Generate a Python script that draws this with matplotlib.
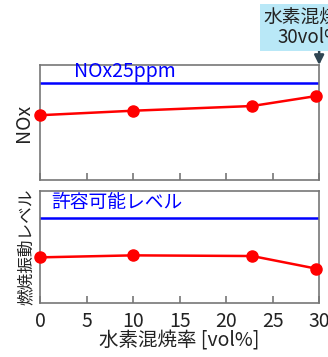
import matplotlib
matplotlib.use("Agg")
from matplotlib import pyplot as plt

plt.rcParams['font.family'] = ['Noto Sans CJK JP', 'DejaVu Sans']

# data
h2_rate = [0, 10, 22.8, 29.7]
nox = [0.563, 0.602, 0.643, 0.730]
nox_limit = 0.84
vib = [0.406, 0.424, 0.418, 0.305]
vib_limit = 0.756
xticks = [0, 5, 10, 15, 20, 25, 30]

frame = '#777777'
red = '#ff0000'
blue = '#0000ff'
txt = '#222222'

fig = plt.figure(figsize=(3.28, 3.57), dpi=100)
ax1 = fig.add_axes([0.122, 0.496, 0.851, 0.322])
ax2 = fig.add_axes([0.122, 0.152, 0.851, 0.313])

for ax in (ax1, ax2):
    ax.set_xlim(0, 30)
    ax.set_ylim(0, 1)
    ax.set_xticks(xticks)
    ax.set_yticks([])
    ax.tick_params(axis='x', direction='in', length=5, color=frame, width=1.2,
                   labelsize=14, pad=6, labelcolor=txt)
    for s in ax.spines.values():
        s.set_color(frame)
        s.set_linewidth(1.2)

ax1.tick_params(axis='x', labelbottom=False)

ax1.axhline(nox_limit, color=blue, lw=1.8)
ax1.plot(h2_rate, nox, color=red, lw=1.8, marker='o', ms=8, clip_on=False, zorder=5)
ax1.text(3.7, nox_limit + 0.01, 'NOx25ppm', color=blue, fontsize=14, va='bottom')
ax1.set_ylabel('NOx', fontsize=14, color=txt, labelpad=4)

ax2.axhline(vib_limit, color=blue, lw=1.8)
ax2.plot(h2_rate, vib, color=red, lw=1.8, marker='o', ms=8, clip_on=False, zorder=5)
ax2.text(1.2, vib_limit + 0.05, '許容可能レベル', color=blue, fontsize=13.5, va='bottom')
ax2.set_ylabel('燃焼振動レベル', fontsize=12, color=txt, labelpad=4)
ax2.set_xlabel('水素混焼率 [vol%]', fontsize=14, color=txt, labelpad=-1)

fig.text(0.945, 0.923, '水素混焼率\n30vol%', ha='center', va='center', fontsize=13.5,
         color=txt, linespacing=0.95,
         bbox=dict(boxstyle='square,pad=0.15', fc='#b9e8f7', ec='none'))
ax1.annotate('', xy=(1.0, 1.0), xycoords='axes fraction',
             xytext=(1.0, 1.18), textcoords='axes fraction',
             arrowprops=dict(arrowstyle='-|>', color='#2f4552', lw=1.8,
                             mutation_scale=14, shrinkA=0, shrinkB=0),
             annotation_clip=False)

fig.savefig('out.png', dpi=100, facecolor='white')
